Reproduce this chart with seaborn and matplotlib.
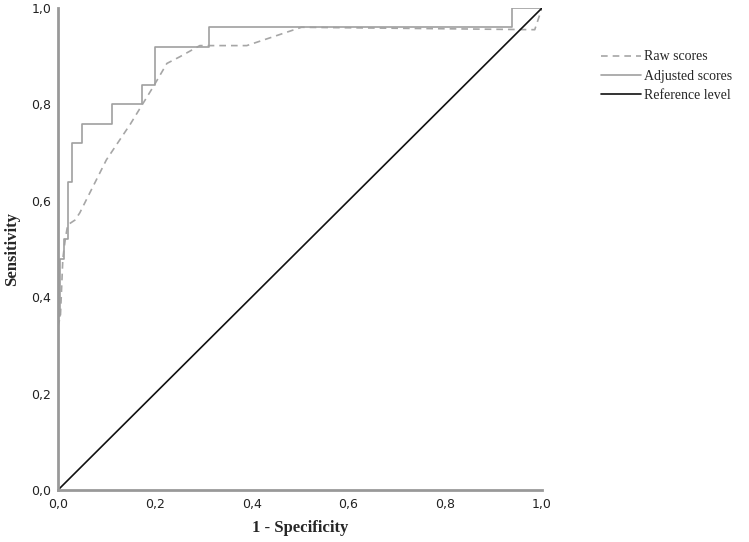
import numpy as np
import pandas as pd
import matplotlib
matplotlib.use("Agg")
import matplotlib.pyplot as plt
from matplotlib.ticker import FuncFormatter
import seaborn as sns

# %% data
raw_fpr = [0.0, 0.0, 0.005, 0.010, 0.015, 0.020, 0.035, 0.045, 0.100, 0.150,
           0.197, 0.225, 0.252, 0.293, 0.390, 0.503, 0.985, 1.0]
raw_tpr = [0.0, 0.34, 0.36, 0.48, 0.52, 0.55, 0.56, 0.575, 0.685, 0.76,
           0.837, 0.885, 0.899, 0.922, 0.922, 0.96, 0.955, 1.0]

adj_fpr = [0.0, 0.0, 0.005, 0.005, 0.013, 0.013, 0.020, 0.020, 0.028, 0.028,
           0.049, 0.049, 0.111, 0.111, 0.174, 0.174, 0.200, 0.200, 0.312, 0.312,
           0.938, 0.938, 1.0]
adj_tpr = [0.0, 0.36, 0.36, 0.48, 0.48, 0.52, 0.52, 0.64, 0.64, 0.72,
           0.72, 0.76, 0.76, 0.80, 0.80, 0.84, 0.84, 0.92, 0.92, 0.96,
           0.96, 1.0, 1.0]

ref_fpr = [0.0, 1.0]
ref_tpr = [0.0, 1.0]

labels = ["Raw scores", "Adjusted scores", "Reference level"]

df = pd.concat([
    pd.DataFrame({"fpr": raw_fpr, "tpr": raw_tpr, "curve": labels[0]}),
    pd.DataFrame({"fpr": adj_fpr, "tpr": adj_tpr, "curve": labels[1]}),
    pd.DataFrame({"fpr": ref_fpr, "tpr": ref_tpr, "curve": labels[2]}),
], ignore_index=True)

# %% plot
sns.set_theme(style="white")
plt.rcParams["font.family"] = ["DejaVu Sans"]

fig = plt.figure(figsize=(7.49, 5.42), dpi=100)
ax = fig.add_axes([58 / 749, 1 - 490 / 542, 484 / 749, 482 / 542])

palette = {labels[0]: "#a6a6a6", labels[1]: "#a0a0a0", labels[2]: "#111111"}
dashes = {labels[0]: (4, 3), labels[1]: "", labels[2]: ""}

sns.lineplot(data=df, x="fpr", y="tpr", hue="curve", style="curve",
             palette=palette, dashes=dashes, sort=False, estimator=None,
             linewidth=1.2, ax=ax, legend=False)

ax.set_xlim(0, 1)
ax.set_ylim(0, 1)
ticks = np.arange(0, 1.01, 0.2)
ax.set_xticks(ticks)
ax.set_yticks(ticks)
fmt = FuncFormatter(lambda v, p: f"{v:.1f}".replace(".", ","))
ax.xaxis.set_major_formatter(fmt)
ax.yaxis.set_major_formatter(fmt)
ax.tick_params(axis="both", length=0, labelsize=9, colors="#222222")
ax.tick_params(axis="x", pad=6)
ax.tick_params(axis="y", pad=5)

for s in ["top", "right"]:
    ax.spines[s].set_visible(False)
for s in ["left", "bottom"]:
    ax.spines[s].set_color("#999999")
    ax.spines[s].set_linewidth(2)

ax.set_xlabel("1 - Specificity", family=["Liberation Serif"], fontsize=12,
              fontweight="bold", labelpad=6)
ax.set_ylabel("Sensitivity", family=["Liberation Serif"], fontsize=12,
              fontweight="bold", labelpad=8)

handles = [
    plt.Line2D([], [], color=palette[labels[0]], lw=1.2, dashes=(4, 3)),
    plt.Line2D([], [], color=palette[labels[1]], lw=1.2),
    plt.Line2D([], [], color=palette[labels[2]], lw=1.2),
]
fig.legend(handles, labels, loc="upper left", bbox_to_anchor=(588 / 749, 1 - 38 / 542),
           frameon=False, handlelength=2.9, handletextpad=0.2, labelspacing=0.45,
           prop={"family": "Liberation Serif", "size": 10})

fig.savefig("out.png", dpi=100)
